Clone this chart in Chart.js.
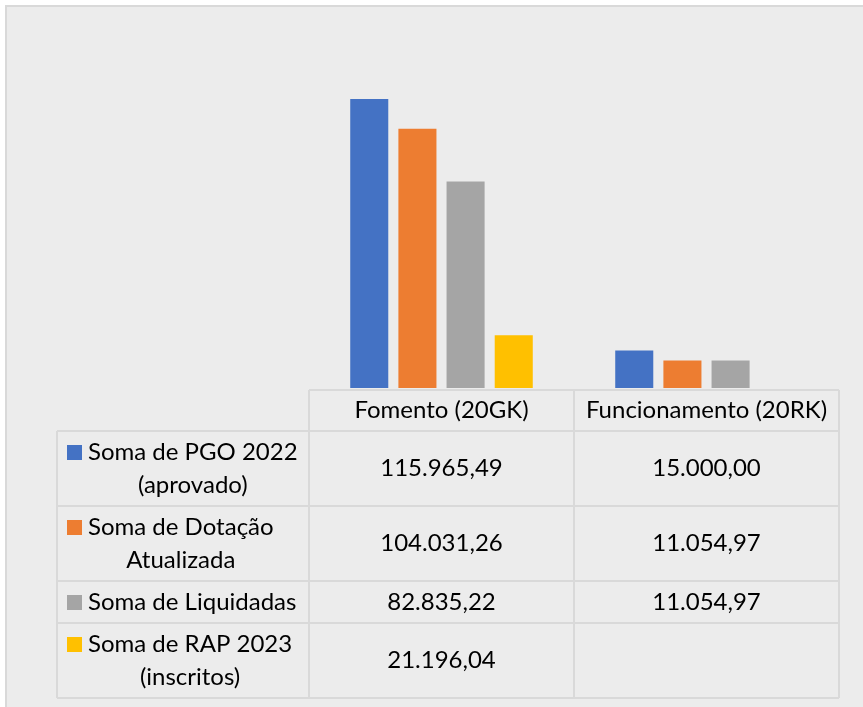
<!DOCTYPE html>
<html>
<head>
<meta charset="utf-8">
<script src="https://cdn.jsdelivr.net/npm/chart.js@4.4.1/dist/chart.umd.min.js"></script>
<style>
  html,body{margin:0;padding:0;background:#fff;}
  canvas{display:block;}
</style>
</head>
<body>
<canvas id="ch" width="863" height="707"></canvas>
<script>
// dados
const categories = ['Fomento (20GK)', 'Funcionamento (20RK)'];
const seriesLabels = [
  ['Soma de PGO 2022', '(aprovado)'],
  ['Soma de Dotação', 'Atualizada'],
  ['Soma de Liquidadas'],
  ['Soma de RAP 2023', '(inscritos)']
];
const pgo2022    = [115965.49, 15000.00];
const dotacao    = [104031.26, 11054.97];
const liquidadas = [82835.22, 11054.97];
const rap2023    = [21196.04, null];
const colors = ['#4472c4', '#ed7d31', '#a5a5a5', '#ffc000'];
const yMax = 140000;

const FONT = '24px Lato, "Open Sans", sans-serif';
const LINE_COLOR = '#d9d9d9';

function fmt(v){
  if(v==null) return '';
  const parts = v.toFixed(2).split('.');
  const int = parts[0].replace(/\B(?=(\d{3})+(?!\d))/g, '.');
  return int + ',' + parts[1];
}

// fundo + borda do gráfico
const bgPlugin = {
  id:'bg',
  beforeDraw(chart){
    const c = chart.ctx;
    c.save();
    c.fillStyle = '#fff';
    c.fillRect(0,0,chart.width,chart.height);
    c.fillStyle = '#ececec';
    c.fillRect(6,6,chart.width,chart.height);
    c.strokeStyle = LINE_COLOR; c.lineWidth = 2;
    c.beginPath(); c.moveTo(6,chart.height); c.lineTo(6,6); c.lineTo(chart.width,6); c.stroke();
    c.restore();
  }
};

// tabela de dados abaixo do gráfico
const tablePlugin = {
  id:'dataTable',
  afterDraw(chart){
    const c = chart.ctx, x = chart.scales.x, area = chart.chartArea;
    const ds = chart.data.datasets;
    const labelLeft = 57;
    const half = (x.getPixelForTick(1) - x.getPixelForTick(0)) / 2;
    const cols = [x.left];
    categories.forEach((_, i) => cols.push(x.getPixelForTick(i) + half));
    cols[cols.length-1] = x.right;
    const top = area.bottom + 2;
    const rowH = seriesLabels.map(l => l.length > 1 ? 75 : 42);
    const rows = [top, top + 41];
    rowH.forEach(h => rows.push(rows[rows.length-1] + h));

    c.save();
    c.strokeStyle = LINE_COLOR; c.lineWidth = 2;
    // linhas horizontais
    c.beginPath();
    c.moveTo(cols[0], rows[0]); c.lineTo(cols[cols.length-1], rows[0]);
    for(let r=1;r<rows.length;r++){ c.moveTo(labelLeft, rows[r]); c.lineTo(cols[cols.length-1], rows[r]); }
    // linhas verticais
    c.moveTo(labelLeft, rows[1]); c.lineTo(labelLeft, rows[rows.length-1]);
    cols.forEach(cx => { c.moveTo(cx, rows[0]); c.lineTo(cx, rows[rows.length-1]); });
    c.stroke();

    c.font = FONT; c.fillStyle = '#000'; c.textBaseline = 'middle'; c.textAlign = 'center';
    categories.forEach((cat, i) => c.fillText(cat, (cols[i]+cols[i+1])/2, (rows[0]+rows[1])/2));

    ds.forEach((d, s) => {
      const yc = (rows[s+1] + rows[s+2]) / 2;
      const lines = seriesLabels[s];
      const lh = 33;
      const y0 = yc - (lines.length-1)*lh/2;
      // chave da legenda
      c.fillStyle = d.backgroundColor;
      c.fillRect(67, y0-7, 15, 15);
      c.fillStyle = '#000';
      const w = Math.max(...lines.map(l => c.measureText(l).width));
      const bx = 88 + w/2;
      lines.forEach((l, k) => c.fillText(l, bx, y0 + k*lh));
      d.data.forEach((v, i) => c.fillText(fmt(v), (cols[i]+cols[i+1])/2, yc));
    });
    c.restore();
  }
};

const series = [pgo2022, dotacao, liquidadas, rap2023];
new Chart(document.getElementById('ch'), {
  type:'bar',
  data:{
    labels: categories,
    datasets: series.map((arr, i) => ({
      label: seriesLabels[i].join(' '),
      data: arr,
      backgroundColor: colors[i],
      barPercentage: 0.79,
      categoryPercentage: 0.727
    }))
  },
  options:{
    responsive:false, devicePixelRatio:1, animation:false,
    layout:{ padding:{ left:309, right:24, top:39, bottom:319 } },
    scales:{
      x:{ display:false, grid:{ display:false } },
      y:{ display:false, min:0, max:yMax }
    },
    plugins:{ legend:{ display:false }, tooltip:{ enabled:false } }
  },
  plugins:[bgPlugin, tablePlugin]
});
</script>
</body>
</html>
